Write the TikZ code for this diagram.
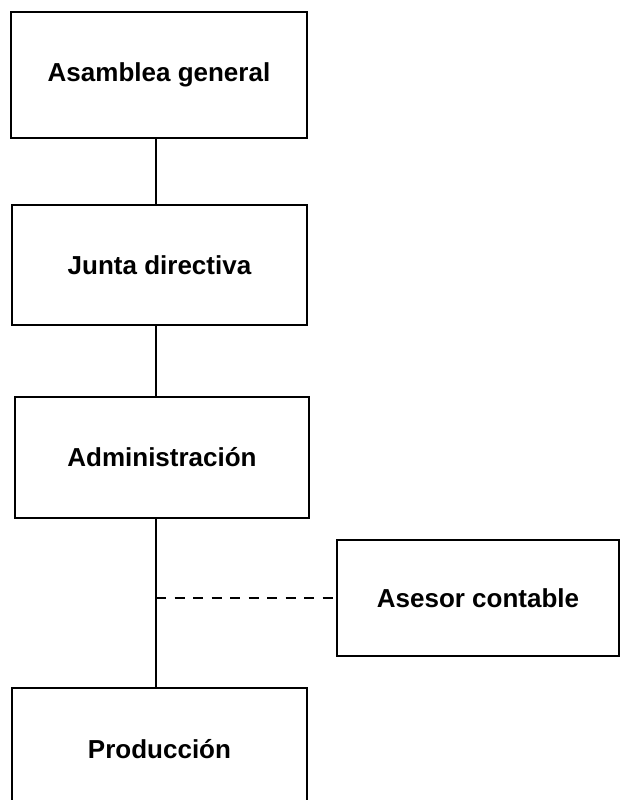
\documentclass[tikz,border=0pt]{standalone}
\usepackage{fontspec}
\setmainfont{Liberation Sans}
\begin{document}
\begin{tikzpicture}[x=1pt,y=-1pt,
  orgbox/.style={draw, line width=1.5pt, rectangle, inner sep=0pt,
    font=\fontsize{26}{30}\selectfont\bfseries},
  link/.style={line width=1.5pt},
  dashlink/.style={line width=1.5pt, dash pattern=on 10pt off 8.5pt}]
\useasboundingbox (0,0) rectangle (621,800);
\node[orgbox, minimum width=296pt, minimum height=126pt] (a) at (159,75) {Asamblea general};
\node[orgbox, minimum width=295pt, minimum height=120pt] (j) at (159.5,265) {Junta directiva};
\node[orgbox, minimum width=294pt, minimum height=121pt] (ad) at (162,457.5) {Administración};
\node[orgbox, minimum width=282pt, minimum height=116pt] (as) at (478,598) {Asesor contable};
\node[orgbox, minimum width=295pt, minimum height=122pt] (p) at (159.5,749) {Producción};
\coordinate (c) at (156,0);
\draw[link] (a.south -| c) -- (j.north -| c);
\draw[link] (j.south -| c) -- (ad.north -| c);
\draw[link] (ad.south -| c) -- (p.north -| c);
\draw[dashlink] (as.west -| c) -- (as.west);
\end{tikzpicture}
\end{document}
